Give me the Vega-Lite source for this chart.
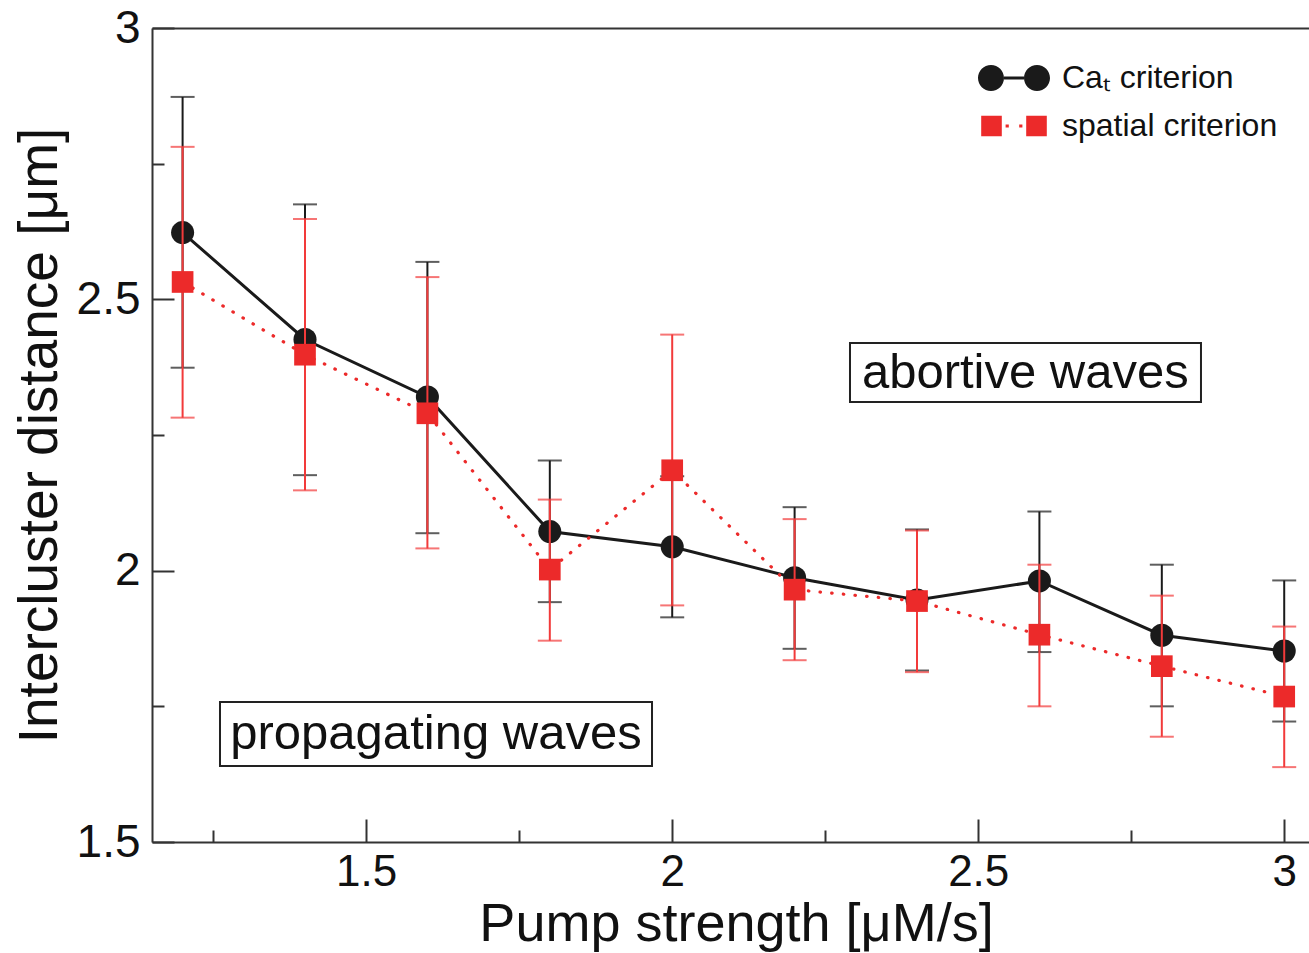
{
  "$schema": "https://vega.github.io/schema/vega-lite/v6.json",
  "width": 1157,
  "height": 814,
  "autosize": "none",
  "padding": {"left": 152, "top": 28, "right": 0, "bottom": 111},
  "background": "white",
  "config": {
    "font": "Liberation Sans",
    "view": {"stroke": null},
    "axis": {"grid": false}
  },
  "datasets": {
    "pts": [
      {"s": "ca", "series": "Caₜ criterion", "x": 1.2, "y": 2.623, "lo": 2.374, "hi": 2.873},
      {"s": "ca", "series": "Caₜ criterion", "x": 1.4, "y": 2.426, "lo": 2.176, "hi": 2.675},
      {"s": "ca", "series": "Caₜ criterion", "x": 1.6, "y": 2.320, "lo": 2.069, "hi": 2.569},
      {"s": "ca", "series": "Caₜ criterion", "x": 1.8, "y": 2.072, "lo": 1.942, "hi": 2.203},
      {"s": "ca", "series": "Caₜ criterion", "x": 2.0, "y": 2.044, "lo": 1.914, "hi": 2.174},
      {"s": "ca", "series": "Caₜ criterion", "x": 2.2, "y": 1.987, "lo": 1.856, "hi": 2.117},
      {"s": "ca", "series": "Caₜ criterion", "x": 2.4, "y": 1.946, "lo": 1.816, "hi": 2.076},
      {"s": "ca", "series": "Caₜ criterion", "x": 2.6, "y": 1.981, "lo": 1.850, "hi": 2.109},
      {"s": "ca", "series": "Caₜ criterion", "x": 2.8, "y": 1.881, "lo": 1.750, "hi": 2.011},
      {"s": "ca", "series": "Caₜ criterion", "x": 3.0, "y": 1.852, "lo": 1.722, "hi": 1.982},
      {"s": "sp", "series": "spatial criterion", "x": 1.2, "y": 2.532, "lo": 2.282, "hi": 2.781},
      {"s": "sp", "series": "spatial criterion", "x": 1.4, "y": 2.398, "lo": 2.148, "hi": 2.648},
      {"s": "sp", "series": "spatial criterion", "x": 1.6, "y": 2.290, "lo": 2.041, "hi": 2.541},
      {"s": "sp", "series": "spatial criterion", "x": 1.8, "y": 2.002, "lo": 1.871, "hi": 2.131},
      {"s": "sp", "series": "spatial criterion", "x": 2.0, "y": 2.185, "lo": 1.936, "hi": 2.435},
      {"s": "sp", "series": "spatial criterion", "x": 2.2, "y": 1.965, "lo": 1.835, "hi": 2.095},
      {"s": "sp", "series": "spatial criterion", "x": 2.4, "y": 1.944, "lo": 1.813, "hi": 2.074},
      {"s": "sp", "series": "spatial criterion", "x": 2.6, "y": 1.882, "lo": 1.750, "hi": 2.011},
      {"s": "sp", "series": "spatial criterion", "x": 2.8, "y": 1.824, "lo": 1.694, "hi": 1.954},
      {"s": "sp", "series": "spatial criterion", "x": 3.0, "y": 1.768, "lo": 1.638, "hi": 1.897}
    ],
    "notes": [
      {"label": "abortive waves"},
      {"label": "propagating waves"}
    ]
  },
  "data": {"name": "pts"},
  "layer": [
    {
      "transform": [{"filter": "datum.s === 'ca'"}],
      "mark": {"type": "rule", "color": "#1a1a1a", "strokeWidth": 2},
      "encoding": {
        "x": {
          "field": "x",
          "type": "quantitative",
          "scale": {"domain": [1.15, 3.0405], "nice": false, "zero": false},
          "axis": {
            "orient": "bottom",
            "values": [1.5, 2, 2.5, 3],
            "format": "~g",
            "tickSize": -23,
            "tickWidth": 2,
            "tickColor": "#333333",
            "domainColor": "#333333",
            "domainWidth": 2,
            "labelFontSize": 44,
            "labelColor": "#111111",
            "labelPadding": 31,
            "labelFlush": false,
            "title": "Pump strength [μM/s]",
            "titleFontSize": 54,
            "titleFontWeight": "normal",
            "titleColor": "#111111",
            "titlePadding": 3,
            "titleX": 584
          }
        },
        "y": {
          "field": "lo",
          "type": "quantitative",
          "scale": {"domain": [1.5, 3], "nice": false, "zero": false},
          "axis": {
            "orient": "left",
            "values": [1.5, 2, 2.5, 3],
            "format": "~g",
            "tickSize": -22,
            "tickWidth": 2,
            "tickColor": "#333333",
            "domainColor": "#333333",
            "domainWidth": 2,
            "labelFontSize": 46,
            "labelColor": "#111111",
            "labelPadding": 34,
            "title": "Intercluster distance [μm]",
            "titleFontSize": 55,
            "titleFontWeight": "normal",
            "titleColor": "#111111",
            "titlePadding": 8
          }
        },
        "y2": {"field": "hi"}
      }
    },
    {
      "transform": [{"filter": "datum.s === 'ca'"}],
      "mark": {"type": "tick", "orient": "horizontal", "color": "#1a1a1a", "size": 24, "thickness": 2},
      "encoding": {
        "x": {
          "field": "x",
          "type": "quantitative",
          "axis": {
            "orient": "bottom",
            "values": [1.25, 1.75, 2.25, 2.75],
            "labels": false,
            "domain": false,
            "tickSize": -12,
            "tickWidth": 2,
            "tickColor": "#333333",
            "title": null
          }
        },
        "y": {
          "field": "lo",
          "type": "quantitative",
          "axis": {
            "orient": "left",
            "values": [1.75, 2.25, 2.75],
            "labels": false,
            "domain": false,
            "tickSize": -12,
            "tickWidth": 2,
            "tickColor": "#333333",
            "title": null
          }
        }
      }
    },
    {
      "transform": [{"filter": "datum.s === 'ca'"}],
      "mark": {"type": "tick", "orient": "horizontal", "color": "#1a1a1a", "size": 24, "thickness": 2},
      "encoding": {
        "x": {
          "field": "x",
          "type": "quantitative",
          "axis": {
            "orient": "top",
            "ticks": false,
            "labels": false,
            "domain": true,
            "domainColor": "#333333",
            "domainWidth": 2,
            "title": null
          }
        },
        "y": {"field": "hi", "type": "quantitative", "axis": null}
      }
    },
    {
      "transform": [{"filter": "datum.s === 'ca'"}],
      "mark": {"type": "line", "strokeWidth": 3},
      "encoding": {
        "x": {"field": "x", "type": "quantitative", "axis": null},
        "y": {"field": "y", "type": "quantitative", "axis": null},
        "color": {
          "field": "series",
          "type": "nominal",
          "scale": {"domain": ["Caₜ criterion", "spatial criterion"], "range": ["#1a1a1a", "#ec2a2a"]},
          "legend": {
            "orient": "none",
            "legendX": 842,
            "legendY": 30,
            "padding": 0,
            "title": null,
            "symbolSize": 1600,
            "labelFontSize": 32,
            "labelLimit": 0,
            "labelColor": "#111111",
            "labelOffset": 28,
            "rowPadding": 12,
            "encode": {
              "symbols": {
                "update": {
                  "shape": {"signal": "datum.index === 0 ? 'M-1.8,0A0.65,0.65,0,1,1,-0.5,0A0.65,0.65,0,1,1,-1.8,0ZM0.5,0A0.65,0.65,0,1,1,1.8,0A0.65,0.65,0,1,1,0.5,0ZM-0.5,-0.075L0.5,-0.075L0.5,0.075L-0.5,0.075Z' : 'M-1.64,-0.515L-0.61,-0.515L-0.61,0.515L-1.64,0.515ZM0.61,-0.515L1.64,-0.515L1.64,0.515L0.61,0.515ZM-0.42,-0.08L-0.26,-0.08L-0.26,0.08L-0.42,0.08ZM0.26,-0.08L0.42,-0.08L0.42,0.08L0.26,0.08Z'"},
                  "fill": {"signal": "datum.index === 0 ? '#1a1a1a' : '#ec2a2a'"},
                  "stroke": {"value": "transparent"},
                  "strokeWidth": {"value": 0},
                  "opacity": {"value": 1}
                }
              }
            }
          }
        }
      }
    },
    {
      "transform": [{"filter": "datum.s === 'ca'"}],
      "mark": {"type": "point", "shape": "circle", "filled": true, "size": 531, "color": "#1a1a1a", "opacity": 1},
      "encoding": {
        "x": {"field": "x", "type": "quantitative", "axis": null},
        "y": {"field": "y", "type": "quantitative", "axis": null}
      }
    },
    {
      "transform": [{"filter": "datum.s === 'sp'"}],
      "mark": {"type": "rule", "color": "#f23a3a", "strokeWidth": 2},
      "encoding": {
        "x": {"field": "x", "type": "quantitative", "axis": null},
        "y": {"field": "lo", "type": "quantitative", "axis": null},
        "y2": {"field": "hi"}
      }
    },
    {
      "transform": [{"filter": "datum.s === 'sp'"}],
      "mark": {"type": "tick", "orient": "horizontal", "color": "#f23a3a", "size": 24, "thickness": 2},
      "encoding": {
        "x": {"field": "x", "type": "quantitative", "axis": null},
        "y": {"field": "lo", "type": "quantitative", "axis": null}
      }
    },
    {
      "transform": [{"filter": "datum.s === 'sp'"}],
      "mark": {"type": "tick", "orient": "horizontal", "color": "#f23a3a", "size": 24, "thickness": 2},
      "encoding": {
        "x": {"field": "x", "type": "quantitative", "axis": null},
        "y": {"field": "hi", "type": "quantitative", "axis": null}
      }
    },
    {
      "transform": [{"filter": "datum.s === 'sp'"}],
      "mark": {"type": "line", "color": "#ec2a2a", "strokeWidth": 3.2, "strokeDash": [0.5, 11.2], "strokeCap": "round"},
      "encoding": {
        "x": {"field": "x", "type": "quantitative", "axis": null},
        "y": {"field": "y", "type": "quantitative", "axis": null}
      }
    },
    {
      "transform": [{"filter": "datum.s === 'sp'"}],
      "mark": {"type": "point", "shape": "square", "filled": true, "size": 470, "color": "#ec2a2a", "opacity": 1},
      "encoding": {
        "x": {"field": "x", "type": "quantitative", "axis": null},
        "y": {"field": "y", "type": "quantitative", "axis": null}
      }
    },
    {
      "data": {"name": "notes"},
      "transform": [{"filter": "datum.label === 'abortive waves'"}],
      "mark": {"type": "rect", "fill": "white", "stroke": "#222222", "strokeWidth": 2},
      "encoding": {
        "x": {"datum": 2.2905, "type": "quantitative", "axis": null},
        "x2": {"datum": 2.864},
        "y": {"datum": 2.4196, "type": "quantitative", "axis": null},
        "y2": {"datum": 2.3109}
      }
    },
    {
      "data": {"name": "notes"},
      "transform": [{"filter": "datum.label === 'abortive waves'"}],
      "mark": {"type": "text", "fontSize": 49, "color": "#111111", "align": "center", "baseline": "middle"},
      "encoding": {
        "x": {"datum": 2.577, "type": "quantitative", "axis": null},
        "y": {"datum": 2.365, "type": "quantitative", "axis": null},
        "text": {"field": "label"}
      }
    },
    {
      "data": {"name": "notes"},
      "transform": [{"filter": "datum.label === 'propagating waves'"}],
      "mark": {"type": "rect", "fill": "white", "stroke": "#222222", "strokeWidth": 2},
      "encoding": {
        "x": {"datum": 1.2611, "type": "quantitative", "axis": null},
        "x2": {"datum": 1.967},
        "y": {"datum": 1.7581, "type": "quantitative", "axis": null},
        "y2": {"datum": 1.6401}
      }
    },
    {
      "data": {"name": "notes"},
      "transform": [{"filter": "datum.label === 'propagating waves'"}],
      "mark": {"type": "text", "fontSize": 49, "color": "#111111", "align": "center", "baseline": "middle"},
      "encoding": {
        "x": {"datum": 1.614, "type": "quantitative", "axis": null},
        "y": {"datum": 1.699, "type": "quantitative", "axis": null},
        "text": {"field": "label"}
      }
    }
  ],
  "resolve": {"axis": {"x": "independent", "y": "independent"}}
}
